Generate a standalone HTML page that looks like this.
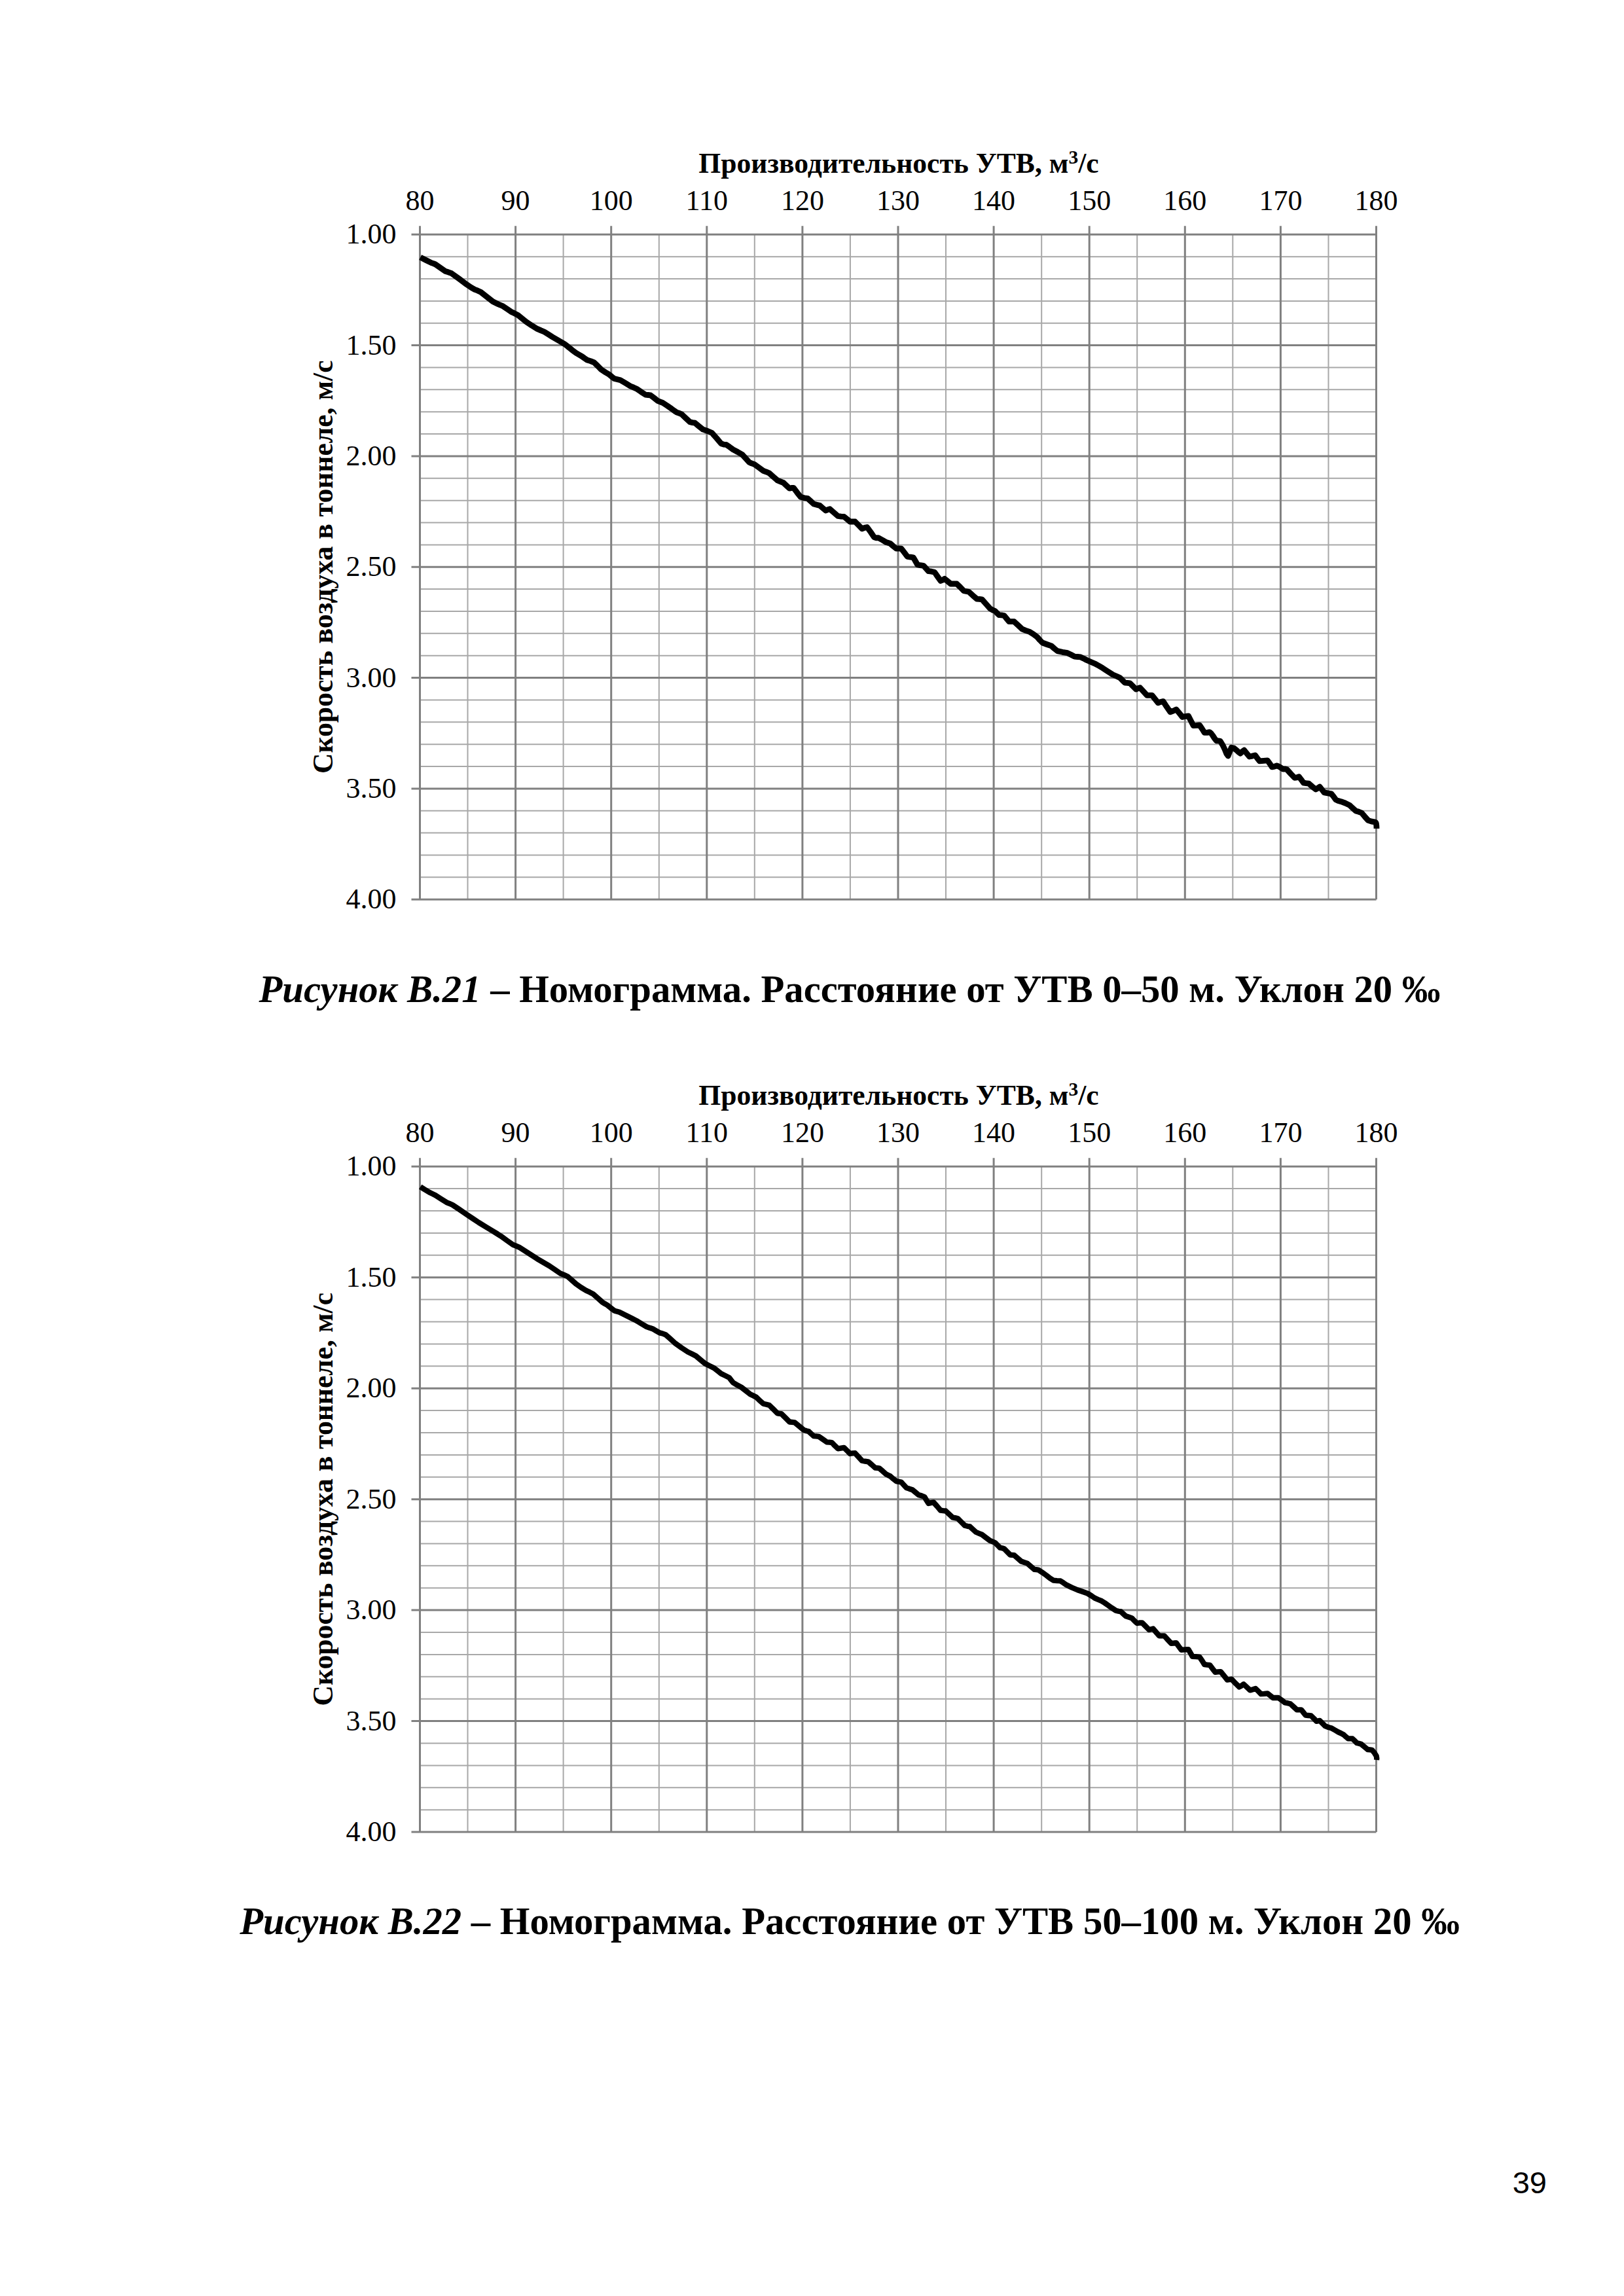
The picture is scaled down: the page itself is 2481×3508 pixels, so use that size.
<!DOCTYPE html>
<html><head><meta charset="utf-8"><title>Page 39</title>
<style>html,body{margin:0;padding:0;background:#fff}body{width:2481px;height:3508px;overflow:hidden;position:relative}svg{position:absolute;left:0;top:0;display:block}</style></head><body>
<svg width="2481" height="3508" viewBox="0 0 2481 3508">
<style>.t{font-family:"Liberation Serif",serif;font-size:44px;fill:#000}.b{font-family:"Liberation Serif",serif;font-weight:bold;font-size:43.6px;fill:#000}.c{font-family:"Liberation Serif",serif;font-weight:bold;font-size:58.7px;fill:#000}.pn{font-family:"Liberation Sans",sans-serif;font-size:47px;fill:#000}</style>
<path d="M714.5 358.3V1374.2M860.6 358.3V1374.2M1006.8 358.3V1374.2M1152.8 358.3V1374.2M1298.9 358.3V1374.2M1445 358.3V1374.2M1591.2 358.3V1374.2M1737.2 358.3V1374.2M1883.3 358.3V1374.2M2029.5 358.3V1374.2M641.5 392.2H2102.5M641.5 426H2102.5M641.5 459.9H2102.5M641.5 493.8H2102.5M641.5 561.5H2102.5M641.5 595.3H2102.5M641.5 629.2H2102.5M641.5 663.1H2102.5M641.5 730.8H2102.5M641.5 764.7H2102.5M641.5 798.5H2102.5M641.5 832.4H2102.5M641.5 900.1H2102.5M641.5 934H2102.5M641.5 967.8H2102.5M641.5 1001.7H2102.5M641.5 1069.4H2102.5M641.5 1103.3H2102.5M641.5 1137.2H2102.5M641.5 1171H2102.5M641.5 1238.7H2102.5M641.5 1272.6H2102.5M641.5 1306.5H2102.5M641.5 1340.3H2102.5" stroke="#a8a8a8" stroke-width="2" fill="none"/>
<path d="M641.5 345.3V1374.2M787.6 345.3V1374.2M933.7 345.3V1374.2M1079.8 345.3V1374.2M1225.9 345.3V1374.2M1372 345.3V1374.2M1518.1 345.3V1374.2M1664.2 345.3V1374.2M1810.3 345.3V1374.2M1956.4 345.3V1374.2M2102.5 345.3V1374.2M628.5 358.3H2102.5M628.5 527.6H2102.5M628.5 696.9H2102.5M628.5 866.2H2102.5M628.5 1035.6H2102.5M628.5 1204.9H2102.5M628.5 1374.2H2102.5" stroke="#808080" stroke-width="3" fill="none"/>
<text x="641.5" y="320.8" class="t" text-anchor="middle">80</text>
<text x="787.6" y="320.8" class="t" text-anchor="middle">90</text>
<text x="933.7" y="320.8" class="t" text-anchor="middle">100</text>
<text x="1079.8" y="320.8" class="t" text-anchor="middle">110</text>
<text x="1225.9" y="320.8" class="t" text-anchor="middle">120</text>
<text x="1372" y="320.8" class="t" text-anchor="middle">130</text>
<text x="1518.1" y="320.8" class="t" text-anchor="middle">140</text>
<text x="1664.2" y="320.8" class="t" text-anchor="middle">150</text>
<text x="1810.3" y="320.8" class="t" text-anchor="middle">160</text>
<text x="1956.4" y="320.8" class="t" text-anchor="middle">170</text>
<text x="2102.5" y="320.8" class="t" text-anchor="middle">180</text>
<text x="605.5" y="372.3" class="t" text-anchor="end">1.00</text>
<text x="605.5" y="541.6" class="t" text-anchor="end">1.50</text>
<text x="605.5" y="710.9" class="t" text-anchor="end">2.00</text>
<text x="605.5" y="880.2" class="t" text-anchor="end">2.50</text>
<text x="605.5" y="1049.6" class="t" text-anchor="end">3.00</text>
<text x="605.5" y="1218.9" class="t" text-anchor="end">3.50</text>
<text x="605.5" y="1388.2" class="t" text-anchor="end">4.00</text>
<text x="1373" y="263.8" class="b" text-anchor="middle">Производительность УТВ, м<tspan font-size="29.5" dy="-14">3</tspan><tspan dy="14">/с</tspan></text>
<text transform="translate(507.5 866.2) rotate(-90)" x="0" y="0" class="b" text-anchor="middle">Скорость воздуха в тоннеле, м/с</text>

<path d="M714.5 1782.2V2799.1M860.6 1782.2V2799.1M1006.8 1782.2V2799.1M1152.8 1782.2V2799.1M1298.9 1782.2V2799.1M1445 1782.2V2799.1M1591.2 1782.2V2799.1M1737.2 1782.2V2799.1M1883.3 1782.2V2799.1M2029.5 1782.2V2799.1M641.5 1816.1H2102.5M641.5 1850H2102.5M641.5 1883.9H2102.5M641.5 1917.8H2102.5M641.5 1985.6H2102.5M641.5 2019.5H2102.5M641.5 2053.4H2102.5M641.5 2087.3H2102.5M641.5 2155.1H2102.5M641.5 2189H2102.5M641.5 2222.9H2102.5M641.5 2256.8H2102.5M641.5 2324.5H2102.5M641.5 2358.4H2102.5M641.5 2392.3H2102.5M641.5 2426.2H2102.5M641.5 2494H2102.5M641.5 2527.9H2102.5M641.5 2561.8H2102.5M641.5 2595.7H2102.5M641.5 2663.5H2102.5M641.5 2697.4H2102.5M641.5 2731.3H2102.5M641.5 2765.2H2102.5" stroke="#a8a8a8" stroke-width="2" fill="none"/>
<path d="M641.5 1769.2V2799.1M787.6 1769.2V2799.1M933.7 1769.2V2799.1M1079.8 1769.2V2799.1M1225.9 1769.2V2799.1M1372 1769.2V2799.1M1518.1 1769.2V2799.1M1664.2 1769.2V2799.1M1810.3 1769.2V2799.1M1956.4 1769.2V2799.1M2102.5 1769.2V2799.1M628.5 1782.2H2102.5M628.5 1951.7H2102.5M628.5 2121.2H2102.5M628.5 2290.7H2102.5M628.5 2460.1H2102.5M628.5 2629.6H2102.5M628.5 2799.1H2102.5" stroke="#808080" stroke-width="3" fill="none"/>
<text x="641.5" y="1744.7" class="t" text-anchor="middle">80</text>
<text x="787.6" y="1744.7" class="t" text-anchor="middle">90</text>
<text x="933.7" y="1744.7" class="t" text-anchor="middle">100</text>
<text x="1079.8" y="1744.7" class="t" text-anchor="middle">110</text>
<text x="1225.9" y="1744.7" class="t" text-anchor="middle">120</text>
<text x="1372" y="1744.7" class="t" text-anchor="middle">130</text>
<text x="1518.1" y="1744.7" class="t" text-anchor="middle">140</text>
<text x="1664.2" y="1744.7" class="t" text-anchor="middle">150</text>
<text x="1810.3" y="1744.7" class="t" text-anchor="middle">160</text>
<text x="1956.4" y="1744.7" class="t" text-anchor="middle">170</text>
<text x="2102.5" y="1744.7" class="t" text-anchor="middle">180</text>
<text x="605.5" y="1796.2" class="t" text-anchor="end">1.00</text>
<text x="605.5" y="1965.7" class="t" text-anchor="end">1.50</text>
<text x="605.5" y="2135.2" class="t" text-anchor="end">2.00</text>
<text x="605.5" y="2304.7" class="t" text-anchor="end">2.50</text>
<text x="605.5" y="2474.1" class="t" text-anchor="end">3.00</text>
<text x="605.5" y="2643.6" class="t" text-anchor="end">3.50</text>
<text x="605.5" y="2813.1" class="t" text-anchor="end">4.00</text>
<text x="1373" y="1687.7" class="b" text-anchor="middle">Производительность УТВ, м<tspan font-size="29.5" dy="-14">3</tspan><tspan dy="14">/с</tspan></text>
<text transform="translate(507.5 2290.7) rotate(-90)" x="0" y="0" class="b" text-anchor="middle">Скорость воздуха в тоннеле, м/с</text>

<path d="M642.2 393.1L650.3 397.2L659.1 401.6L662.2 402.6L665.2 403.9L672.7 409.2L680.6 414.6L684.8 415.8L689.9 417.7L701.3 425.9L713 434.7L720 439.4L725.3 442.4L729.5 443.9L734.5 446.2L743.4 453.3L753 460.8L761.1 464.7L768.4 467.8L774.8 472.1L780.7 476.2L786.1 478.8L791.5 481.6L797.3 486.3L803.8 491.6L812.3 497.3L820.7 502.4L826.4 504.9L831.5 507L837.2 510.5L843.8 514.7L853.3 520.2L862.3 525.5L866.7 528.8L870 531.6L874.9 535.4L880 539.2L884.7 542L889.2 544.6L893 547.4L896.9 550L902.1 551.6L907.7 553.9L913 559L918.5 564.6L924.8 568.7L930.8 572.3L934.8 575.7L938.5 578.5L942.6 579.5L947.7 580.8L955.4 585.3L963.1 590L967.9 591.9L972.4 593.9L979.4 598.7L986.2 603.1L990.2 603.5L993.9 603.9L999.3 608L1004.7 612.4L1008.4 613.8L1012.4 615.4L1019.3 619.9L1026.2 624.7L1030.4 627.8L1033.9 630.1L1037.5 631.2L1041.6 633.1L1047.8 639L1054 644.7L1057.8 645.6L1061.6 646.2L1067.4 651L1074 656.2L1080.8 658.5L1087.8 661.6L1095.1 669.9L1101.7 677.8L1105.8 679.1L1109.4 679.3L1114.3 682.7L1120 686.9L1126.9 690.5L1133.9 694.6L1139.6 700.7L1144.6 706.2L1148.2 707.9L1152.3 709.3L1159.2 714.3L1166.2 719.3L1170.9 721.1L1175.4 723.1L1181.5 728.5L1187.7 733.9L1192.5 735.9L1197 737.7L1201.8 742.2L1206.2 746.2L1209.2 745.5L1212.4 745.4L1217.5 752.2L1223.1 759.3L1228.6 760.8L1233.9 761.6L1238.7 765.9L1243.2 770.1L1247.8 771.3L1252.4 772.4L1257.2 776.5L1261.6 780.1L1264.5 778.8L1267.8 777.8L1273.8 783L1280.1 788.5L1284.9 789.1L1289.3 789.3L1294 793.2L1298.6 797L1302.4 796.8L1306.3 797L1311.7 802.5L1317 807.8L1320.8 806.4L1324.7 805.5L1330.2 813L1335.5 820.9L1338.5 821.8L1341.7 821.6L1347.9 825L1354 828.6L1357.2 829.5L1360 830.4L1364.5 834.4L1369.2 838.1L1373 837.8L1376.9 838.1L1381.5 844.2L1386.2 850.4L1391 851.2L1395.4 851.9L1398.5 857.3L1401.6 862.7L1406.1 863.7L1410.8 864.3L1414.7 868.5L1418.5 872.7L1423 873.2L1427.7 874.3L1432.5 881.1L1437 887.4L1440 886.2L1443.1 884.3L1447.6 888L1452.4 892L1456.9 891.8L1461.6 892L1467.1 897.2L1472.4 902.7L1476.2 903.5L1480.1 904.3L1486.2 909.8L1492.4 915.1L1496.2 915.3L1500.1 915.8L1506.2 922.6L1512.4 929.7L1516.6 932.1L1520.1 933.5L1523.2 936.8L1526.3 939.7L1530.1 939.9L1534 940.5L1537.8 945.1L1541.6 949.7L1545.1 949.6L1549.3 949.7L1555.3 955.2L1561.7 961.2L1567.1 963.3L1572.4 965.1L1578.8 969.1L1584.8 973.6L1588.6 978L1592.5 982L1599.3 984.5L1606.2 986.9L1610.7 990.9L1615.4 994.6L1623 996.3L1630.8 997.7L1636.6 1000.5L1641.6 1003.1L1646.3 1003.5L1650.8 1003.9L1655.1 1005.9L1660 1008.5L1666.9 1011.5L1673.9 1014.6L1679.2 1017.5L1684.7 1020.8L1692.4 1025.9L1700.1 1030.8L1705.9 1033.2L1710.8 1035.4L1714.8 1039.5L1718.5 1043.1L1722.2 1043.4L1726.2 1043.9L1731 1048.7L1735.5 1053.1L1738.5 1051.8L1741.6 1050.8L1746.9 1056.5L1752.4 1062.4L1756.4 1062.4L1760.1 1062.4L1764.7 1068.3L1769.3 1073.9L1773 1072.5L1777 1071.6L1782.3 1079.8L1787.8 1087.8L1792.5 1086.1L1797 1083.9L1801.6 1089.6L1806.3 1095.5L1811 1094.5L1815.5 1093.9L1819.3 1101.2L1823.2 1108.6L1827.9 1108.4L1832.5 1107.8L1836.4 1113.5L1840.1 1119.3L1844.1 1119.4L1847.8 1118.6L1850.3 1120.5L1852.5 1123.5L1855.4 1128L1858.4 1131.9L1861.3 1131.9L1864.3 1132.4L1867.8 1138.2L1871.2 1145.2L1873.8 1151.7L1876.2 1155L1878.5 1149L1881.1 1142.2L1885 1143.1L1889 1146.2L1892.1 1149.2L1894.9 1151.1L1897.7 1148.3L1900.8 1146.2L1904.6 1150.9L1908.7 1156L1913.2 1155.1L1917.5 1154L1920.8 1158.4L1924.4 1162.9L1930.4 1162.3L1936.3 1161.9L1940 1166.9L1943.2 1171.8L1947 1171.1L1951 1169.8L1955.6 1172.2L1960 1175L1962.8 1174.8L1965.9 1175.5L1971.7 1182L1977.7 1188.3L1981.5 1187.8L1984.6 1186.8L1988 1191.3L1991.5 1196.2L1995.2 1196.7L1999.4 1197.1L2004.9 1201.9L2010.2 1206L2013.4 1204.1L2016.2 1202.1L2019.3 1206.1L2023.1 1210.9L2028.5 1211.9L2033.9 1212.9L2037.5 1217.3L2040.8 1221.8L2044.4 1223.5L2048.7 1224.7L2055 1227L2061.5 1230.1L2066.6 1234.7L2071.3 1239L2075.8 1240.3L2080.2 1242L2085 1247.7L2090 1253.3L2095.4 1255.1L2099.9 1255.8L2101.7 1256.7L2102.4 1258.2L2102.9 1262.2L2103 1266" stroke="#000" stroke-width="8.8" fill="none" stroke-linejoin="round" stroke-linecap="butt"/>
<path d="M642.2 1813.2L648.5 1817.2L656 1821.7L660.4 1823.9L665.2 1826.3L673.7 1831.7L682.2 1837.1L686.5 1838.8L691.4 1841L701.6 1847.8L713 1855.6L722.2 1861.8L731.4 1867.9L742.6 1874.7L753 1881L759.3 1884.9L765.3 1888.7L774.7 1895.5L783.8 1901.8L787.8 1903.4L793 1905.6L806.3 1914L820.7 1923.3L830.6 1929.1L839.2 1934.1L848.1 1940.2L856.1 1945.6L861.7 1947.9L866.9 1950.2L873.2 1955.6L880 1961.7L887.8 1967.1L895.4 1971.7L900.9 1974.3L906.2 1977.1L913.3 1983.3L920 1989.4L924 1991.9L927.7 1994L933.1 1998.4L938.5 2002.5L941.8 2003.6L946.2 2004.8L956.2 2009.7L966.2 2014.8L970.4 2016.9L973.9 2018.7L980.8 2023L987.8 2027.1L992.6 2028.8L997 2030.2L1002.4 2033.3L1007.8 2036.4L1012.2 2037.5L1017 2039.4L1023.3 2044.9L1030.9 2051.8L1041 2059.1L1050.9 2065.6L1057.4 2068.8L1063.2 2071.8L1070 2077.5L1077 2083.3L1084.1 2086.9L1090.9 2090.2L1096.4 2094.5L1101.7 2098.7L1108.1 2101.9L1114 2104.9L1117 2108.7L1120 2112.5L1125.7 2115.8L1132.3 2119.4L1139.4 2124.9L1146.2 2130.2L1151 2132.5L1155.4 2134.8L1160.8 2139.9L1166.2 2144.8L1170.7 2145.8L1175.4 2147.1L1181.7 2153.3L1187.7 2159.4L1190.8 2159.8L1193.9 2160.2L1200 2166.3L1206.2 2172.5L1210 2172.9L1213.9 2173.3L1220.9 2179L1227.8 2184.8L1232 2186.2L1235.5 2187.1L1239.4 2190.7L1243.2 2194.1L1246.7 2194.4L1250.8 2194.8L1257 2199L1263.2 2203.3L1267.3 2203.7L1270.9 2204.1L1275.4 2208.8L1280.1 2213.3L1284.7 2212.6L1289.3 2211.8L1294 2216.4L1298.6 2221L1302.4 2220.4L1306.3 2220.2L1311.5 2225.9L1317 2231.8L1321.6 2232.7L1326.3 2233.3L1331.9 2238L1337.1 2242.6L1340.1 2242.9L1343.2 2243.3L1348.6 2247.8L1354 2252.6L1357.1 2254.1L1360 2255.4L1364.5 2259.3L1369.2 2263.1L1373.1 2263.8L1376.9 2264.6L1380.7 2268.7L1384.6 2273.1L1389.2 2274.7L1393.9 2276.2L1398.5 2280L1403.1 2283.9L1407.9 2285.3L1412.3 2287L1415.5 2292.3L1418.5 2297L1422.1 2296.1L1426.2 2295.4L1431.6 2301.4L1437 2307.7L1440.9 2308.2L1444.7 2308.5L1450.1 2313.5L1455.4 2318.5L1459.2 2319.2L1463.1 2320L1468.5 2325.4L1473.9 2330.8L1477.9 2331.8L1481.6 2332.4L1486.1 2336.5L1490.8 2340.8L1495.3 2342.7L1500.1 2344.7L1506.3 2349.3L1512.4 2353.9L1516.5 2355.5L1520.1 2357L1524 2360.9L1527.8 2364.7L1530.8 2365.3L1534 2366.2L1538.6 2370.9L1543.2 2375.5L1546.2 2375.8L1549.3 2376.2L1554.5 2380.7L1560.1 2385.5L1564.8 2387.1L1569.4 2388.6L1574.9 2393.3L1580.1 2397.8L1583.1 2398.2L1586.3 2398.6L1592.2 2402.4L1598.6 2407L1604 2411.3L1609.2 2414.6L1614.7 2415.1L1620 2415.4L1624.2 2418.1L1629.2 2421.6L1637.3 2425.5L1646.2 2429.3L1654.3 2432L1661.6 2434.6L1667.3 2438.1L1672.4 2441.6L1677.8 2444L1683.1 2446.2L1687.6 2449L1692.4 2452.3L1698.7 2456.8L1704.7 2460.8L1708.8 2461.7L1712.4 2462.4L1716.2 2465.8L1720.1 2469.3L1724.7 2470.8L1729.3 2472.4L1733.2 2476.5L1737 2480.1L1740.7 2479.5L1744.7 2479.3L1750.2 2484.8L1755.5 2490.1L1758.6 2489.3L1761.6 2488.5L1766.1 2493.8L1770.9 2499.3L1774.7 2499.3L1778.6 2499.3L1783.9 2505.1L1789.3 2510.8L1793.3 2510.5L1797 2510.1L1800.7 2515.4L1804.7 2520.8L1810.2 2520.4L1815.5 2520.1L1818.6 2525.4L1821.7 2530.9L1827 2531.2L1832.5 2531.6L1836.5 2537.4L1840.1 2543.2L1844.2 2543.7L1848.3 2544.1L1852.4 2549.6L1856.6 2554.9L1860.6 2554.4L1864.9 2554.1L1870 2560.4L1874.9 2566.6L1878.2 2566.2L1881.6 2565.7L1887.4 2571.8L1893.2 2577.4L1896.7 2575.5L1899.9 2573.2L1904.8 2577.7L1909.8 2582.4L1914 2581.2L1918.1 2579.9L1922.2 2583.9L1926.5 2588.2L1931.5 2587.9L1936.4 2587.4L1940.7 2590.7L1944.7 2594L1948.7 2593.9L1953 2594L1958 2597.6L1963 2601.5L1967.2 2602.2L1971.3 2603.2L1976.4 2607.9L1981.3 2612.3L1984.9 2612.4L1988 2612.3L1991.2 2616.4L1994.6 2620.6L1998.6 2621L2002.9 2621.4L2007.3 2625.7L2011.2 2629.8L2013.7 2629.4L2016.2 2628.9L2020 2632.8L2024.5 2637.2L2029.4 2639.1L2034.5 2640.6L2039.6 2643.5L2044.5 2646.4L2048.9 2648.4L2052.8 2650.5L2056.3 2653.7L2059.5 2656.4L2062.8 2656.4L2066.1 2656.4L2069.4 2659.6L2072.8 2663L2075.9 2663.7L2079.4 2664.7L2084.4 2668.9L2089.4 2673L2092.9 2673.3L2096 2673.8L2099.7 2678.1L2102.7 2683L2103.3 2686.6L2103 2689" stroke="#000" stroke-width="8.3" fill="none" stroke-linejoin="round" stroke-linecap="butt"/>
<text x="1298" y="1531" class="c" text-anchor="middle"><tspan font-style="italic">Рисунок В.21</tspan> – Номограмма. Расстояние от УТВ 0–50 м. Уклон 20 ‰</text>
<text x="1298" y="2955" class="c" text-anchor="middle"><tspan font-style="italic">Рисунок В.22</tspan> – Номограмма. Расстояние от УТВ 50–100 м. Уклон 20 ‰</text>
<text x="2363" y="3351" class="pn" text-anchor="end">39</text>
</svg>
</body></html>
